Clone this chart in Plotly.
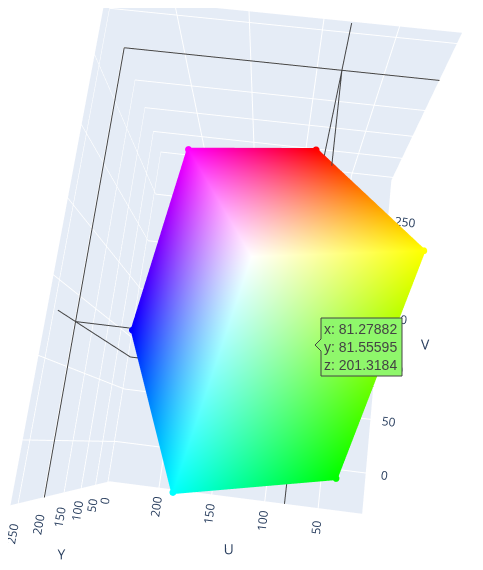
import plotly.graph_objects as go

corner_names = ["black", "red", "green", "yellow", "blue", "magenta", "cyan", "white"]
corner_u = [128, 91, 52, 16, 241, 202, 165, 128]
corner_y = [0, 76, 150, 226, 29, 105, 179, 255]
corner_v = [128, 281, -3, 153, 103, 256, -25, 128]
corner_colors = ["#000000", "#ff0000", "#00ff00", "#ffff00", "#0000ff", "#ff00ff", "#00ffff", "#ffffff"]
face_i = [0, 0, 0, 0, 0, 0, 7, 7, 7, 7, 7, 7]
face_j = [2, 6, 1, 5, 1, 3, 3, 1, 3, 2, 5, 4]
face_k = [6, 4, 5, 4, 3, 2, 1, 5, 2, 6, 4, 6]
outline = [6, 2, 3, 1, 5, 4, 6]

# Axis ranges and ticks
u_range = [9, 247]
y_range = [-8, 263]
v_range = [-37, 293]
tick_vals = [0, 50, 100, 150, 200, 250]

# Hovered point and its label
hover_v = 81.27882
hover_u = 81.55595
hover_y = 201.3184
hover_lines = ["x: 81.27882", "y: 81.55595", "z: 201.3184"]
hover_color = "#8ff76b"

W, H = 493, 578
def px(x):
    return (x - 8) / W
def py(y):
    return 1 - (y - 8) / H

fig = go.Figure()
fig.add_trace(go.Mesh3d(
    x=corner_v, y=corner_u, z=corner_y,
    i=face_i, j=face_j, k=face_k,
    vertexcolor=corner_colors,
    flatshading=False,
    lighting=dict(ambient=1, diffuse=0, specular=0, roughness=1, fresnel=0),
    hoverinfo="skip", showscale=False,
))
fig.add_trace(go.Scatter3d(
    x=[corner_v[n] for n in outline],
    y=[corner_u[n] for n in outline],
    z=[corner_y[n] for n in outline],
    mode="lines+markers",
    line=dict(width=7, color=[corner_colors[n] for n in outline]),
    marker=dict(size=4, color=[corner_colors[n] for n in outline], opacity=1),
    hoverinfo="skip", showlegend=False,
))

# Spike lines: the parts the picture shows outside the cube
wall_u = 246
ceil_v = 292
back_y = -7
v0, v1 = v_range
u0, u1 = u_range
y0, y1 = y_range
spikes = [
    ([v0, ceil_v], [wall_u, wall_u], [hover_y, hover_y]),
    ([hover_v, hover_v], [wall_u, wall_u], [back_y, 245]),
    ([ceil_v, ceil_v], [u0, wall_u], [hover_y, hover_y]),
    ([ceil_v, ceil_v], [hover_u, hover_u], [back_y, y1]),
    ([hover_v, hover_v], [u0, wall_u], [back_y, back_y]),
    ([v0, ceil_v], [hover_u, hover_u], [back_y, back_y]),
    ([216, ceil_v], [hover_u, hover_u], [hover_y, hover_y]),
    ([hover_v, hover_v], [208, wall_u], [hover_y, hover_y]),
]
for sx, sy, sz in spikes:
    fig.add_trace(go.Scatter3d(
        x=sx, y=sy, z=sz, mode="lines",
        line=dict(color="#444444", width=2), hoverinfo="skip", showlegend=False,
    ))

axis = dict(tickmode="array", tickvals=tick_vals)
fig.update_layout(
    width=W, height=H,
    margin=dict(l=0, r=0, t=0, b=0),
    showlegend=False,
    scene=dict(
        xaxis=dict(title=dict(text="V"), range=v_range, **axis),
        yaxis=dict(title=dict(text="U"), range=u_range, **axis),
        zaxis=dict(title=dict(text="Y"), range=y_range, **axis),
        aspectmode="manual",
        aspectratio=dict(x=1.387, y=1.0, z=1.10),
        camera=dict(
            eye=dict(x=-0.475, y=-0.092, z=2.292),
            up=dict(x=0.972, y=0.116, z=0.224),
            center=dict(x=0, y=0, z=0),
        ),
    ),
)

L, R, T, B, tip = 321, 402, 318, 376, 315
mid = 345
fig.add_shape(
    type="path", xref="paper", yref="paper",
    path=(f"M {px(L)} {py(T)} L {px(R)} {py(T)} L {px(R)} {py(B)} L {px(L)} {py(B)} "
          f"L {px(L)} {py(mid + 6)} L {px(tip)} {py(mid)} L {px(L)} {py(mid - 6)} Z"),
    fillcolor=hover_color, line=dict(color="#444444", width=1),
)
fig.add_annotation(
    xref="paper", yref="paper", x=px(322), y=py(347), xanchor="left", yanchor="middle",
    text="<br>".join(hover_lines), showarrow=False, align="left",
    font=dict(family="Arial, Liberation Sans, sans-serif", size=14, color="#444444"),
)
fig.write_html("out.html")
